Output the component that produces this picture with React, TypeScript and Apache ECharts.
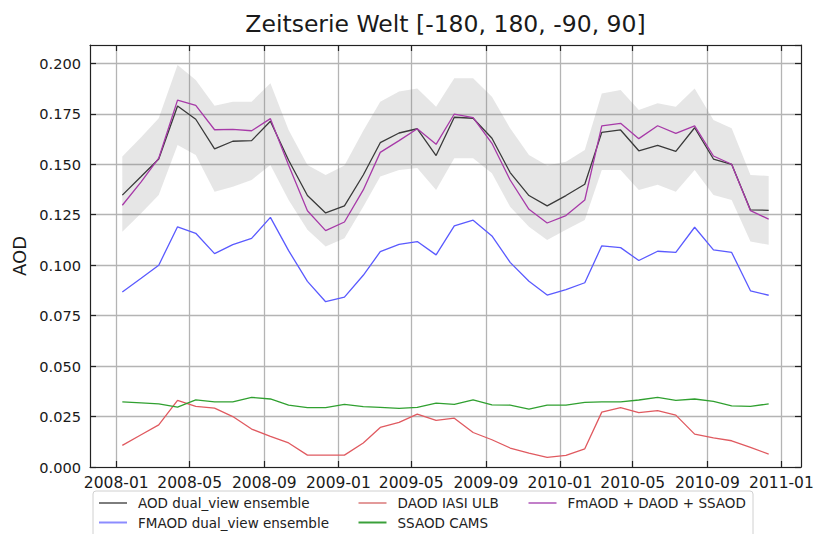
import React, { useEffect, useRef } from "react";
import * as echarts from "echarts";

// ---- data ----
const months = [
  "2008-01", "2008-02", "2008-03", "2008-04", "2008-05", "2008-06", "2008-07", "2008-08", "2008-09", "2008-10", "2008-11", "2008-12",
  "2009-01", "2009-02", "2009-03", "2009-04", "2009-05", "2009-06", "2009-07", "2009-08", "2009-09", "2009-10", "2009-11", "2009-12",
  "2010-01", "2010-02", "2010-03", "2010-04", "2010-05", "2010-06", "2010-07", "2010-08", "2010-09", "2010-10", "2010-11", "2010-12",
];

const aodEnsemble = [
  0.1347, 0.1439, 0.1526, 0.1789, 0.1723, 0.1576, 0.1614, 0.1617, 0.1713, 0.1520, 0.1345, 0.1259,
  0.1294, 0.1447, 0.1607, 0.1655, 0.1676, 0.1543, 0.1733, 0.1728, 0.1629, 0.1459, 0.1345, 0.1294,
  0.1345, 0.1401, 0.1658, 0.1670, 0.1567, 0.1594, 0.1564, 0.1681, 0.1526, 0.1500, 0.1274, 0.1272,
];

const aodLower = [
  0.1166, 0.1257, 0.1348, 0.1596, 0.1546, 0.1364, 0.1389, 0.1422, 0.1497, 0.1323, 0.1175, 0.1092,
  0.1134, 0.1290, 0.1439, 0.1472, 0.1481, 0.1373, 0.1530, 0.1530, 0.1455, 0.1290, 0.1191, 0.1125,
  0.1175, 0.1224, 0.1472, 0.1472, 0.1373, 0.1398, 0.1364, 0.1472, 0.1348, 0.1323, 0.1117, 0.1101,
];

const aodUpper = [
  0.1538, 0.1634, 0.1728, 0.1992, 0.1917, 0.1790, 0.1810, 0.1810, 0.1901, 0.1670, 0.1497, 0.1447,
  0.1494, 0.1666, 0.1810, 0.1860, 0.1876, 0.1785, 0.1926, 0.1926, 0.1835, 0.1678, 0.1546, 0.1494,
  0.1513, 0.1571, 0.1851, 0.1868, 0.1769, 0.1802, 0.1785, 0.1876, 0.1719, 0.1678, 0.1447, 0.1442,
];

const fmaodEnsemble = [
  0.0867, 0.0935, 0.1000, 0.1190, 0.1158, 0.1057, 0.1102, 0.1133, 0.1237, 0.1072, 0.0920, 0.0819,
  0.0842, 0.0950, 0.1067, 0.1103, 0.1117, 0.1051, 0.1195, 0.1223, 0.1145, 0.1014, 0.0920, 0.0852,
  0.0879, 0.0913, 0.1096, 0.1087, 0.1023, 0.1069, 0.1063, 0.1188, 0.1076, 0.1063, 0.0873, 0.0851,
];

const daodIasi = [
  0.0107, 0.0160, 0.0209, 0.0330, 0.0300, 0.0292, 0.0250, 0.0188, 0.0152, 0.0119, 0.0059, 0.0059,
  0.0059, 0.0119, 0.0196, 0.0221, 0.0262, 0.0231, 0.0242, 0.0171, 0.0135, 0.0094, 0.0069, 0.0048,
  0.0058, 0.0090, 0.0272, 0.0294, 0.0269, 0.0279, 0.0257, 0.0163, 0.0144, 0.0130, 0.0097, 0.0064,
];

const ssaodCams = [
  0.0323, 0.0318, 0.0313, 0.0297, 0.0333, 0.0323, 0.0323, 0.0345, 0.0337, 0.0307, 0.0294, 0.0294,
  0.0310, 0.0299, 0.0295, 0.0290, 0.0295, 0.0316, 0.0310, 0.0333, 0.0308, 0.0307, 0.0287, 0.0307,
  0.0307, 0.0320, 0.0323, 0.0323, 0.0332, 0.0345, 0.0330, 0.0337, 0.0325, 0.0303, 0.0300, 0.0313,
];

const sumAod = [
  0.1297, 0.1413, 0.1530, 0.1818, 0.1792, 0.1671, 0.1673, 0.1666, 0.1726, 0.1495, 0.1270, 0.1171,
  0.1214, 0.1373, 0.1559, 0.1617, 0.1676, 0.1599, 0.1749, 0.1731, 0.1604, 0.1422, 0.1277, 0.1209,
  0.1246, 0.1323, 0.1690, 0.1703, 0.1627, 0.1691, 0.1653, 0.1690, 0.1541, 0.1500, 0.1270, 0.1228,
];

const xTickLabels = ["2008-01", "2008-05", "2008-09", "2009-01", "2009-05", "2009-09", "2010-01", "2010-05", "2010-09", "2011-01"];

const seriesNames = [
  "AOD dual_view ensemble",
  "FMAOD dual_view ensemble",
  "DAOD IASI ULB",
  "SSAOD CAMS",
  "FmAOD + DAOD + SSAOD",
];

const FONT = "DejaVu Sans";

function monthTime(m: string, day: number): number {
  const [y, mo] = m.split("-").map(Number);
  return Date.UTC(y, mo - 1, day);
}

function fmtMonth(v: number): string {
  const d = new Date(v);
  const mo = d.getUTCMonth() + 1;
  return d.getUTCFullYear() + "-" + (mo < 10 ? "0" + mo : String(mo));
}

export default function App() {
  const ref = useRef<HTMLDivElement>(null);

  useEffect(() => {
    if (!ref.current) return;
    const chart = echarts.init(ref.current, undefined, { renderer: "svg" });

    const times = months.map((m) => monthTime(m, 11));
    const span = times[times.length - 1] - times[0];
    const xMin = times[0] - 0.05 * span;
    const xMax = times[times.length - 1] + 0.05 * span;
    const xTicks = xTickLabels.map((m) => monthTime(m, 1));
    const yMax = 0.2091;

    const pairs = (arr: number[]) => arr.map((v, i) => [times[i], v]);

    const lineSeries = (name: string, data: number[], color: string, z: number) => ({
      name,
      type: "line",
      data: pairs(data),
      symbol: "none",
      showSymbol: false,
      lineStyle: { color, width: 1.3 },
      itemStyle: { color },
      z,
    });

    const legendBase = {
      orient: "vertical",
      top: 495,
      padding: 0,
      itemGap: 3.5,
      itemWidth: 28,
      itemHeight: 2,
      icon: "rect",
      textStyle: { fontFamily: FONT, fontSize: 13.5, color: "#222", lineHeight: 16, padding: [0, 0, 0, 6] },
    };

    const legendColors: Record<string, string> = {
      [seriesNames[0]]: "#7d7d7d",
      [seriesNames[1]]: "#8c8cff",
      [seriesNames[2]]: "#e39a9a",
      [seriesNames[3]]: "#3aa03a",
      [seriesNames[4]]: "#c27fc9",
    };
    const legendItem = (n: string) => ({ name: n, itemStyle: { color: legendColors[n] } });

    const axisLineStyle = { color: "#222", width: 1.2 };

    const option: any = {
      animation: false,
      backgroundColor: "#ffffff",
      textStyle: { fontFamily: FONT },
      grid: { left: 90, right: 13, top: 45, bottom: 67, containLabel: false, outerBoundsMode: "none" },
      graphic: [
        {
          type: "rect",
          shape: { x: 93, y: 491, width: 660, height: 60, r: 3 },
          style: { fill: "#ffffff", stroke: "#d0d0d0", lineWidth: 1 },
          silent: true,
          z: 0,
        },
        {
          type: "text",
          x: 445.5,
          y: 24,
          style: {
            text: "Zeitserie Welt [-180, 180, -90, 90]",
            fontFamily: FONT,
            fontSize: 23.5,
            fill: "#1a1a1a",
            textAlign: "center",
            textVerticalAlign: "middle",
          },
        },
        {
          type: "text",
          x: 19.5,
          y: 256,
          rotation: Math.PI / 2,
          style: {
            text: "AOD",
            fontFamily: FONT,
            fontSize: 18,
            fill: "#1a1a1a",
            textAlign: "center",
            textVerticalAlign: "middle",
          },
        },
      ],
      legend: [
        { ...legendBase, left: 99, data: [legendItem(seriesNames[0]), legendItem(seriesNames[1])] },
        { ...legendBase, left: 358.5, data: [legendItem(seriesNames[2]), legendItem(seriesNames[3])] },
        { ...legendBase, left: 528.5, data: [legendItem(seriesNames[4])] },
      ],
      xAxis: [
        {
          type: "value",
          min: xMin,
          max: xMax,
          position: "bottom",
          axisLine: { show: true, onZero: false, lineStyle: axisLineStyle },
          axisTick: { show: true, inside: true, length: 6, customValues: xTicks, lineStyle: axisLineStyle },
          axisLabel: {
            show: true,
            customValues: xTicks,
            formatter: (v: number) => fmtMonth(v),
            fontFamily: FONT,
            fontSize: 15.5,
            color: "#1a1a1a",
            margin: 8,
            hideOverlap: false,
          },
          splitLine: { show: true, lineStyle: { color: "#b4b4b4", width: 1.3 } },
        },
        {
          type: "value",
          min: xMin,
          max: xMax,
          position: "top",
          axisLine: { show: true, onZero: false, lineStyle: axisLineStyle },
          axisTick: { show: true, inside: true, length: 6, customValues: xTicks, lineStyle: axisLineStyle },
          axisLabel: { show: false },
          splitLine: { show: false },
        },
      ],
      yAxis: [
        {
          type: "value",
          min: 0,
          max: yMax,
          interval: 0.025,
          position: "left",
          axisLine: { show: true, onZero: false, lineStyle: axisLineStyle },
          axisTick: { show: true, inside: true, length: 6, lineStyle: axisLineStyle },
          axisLabel: {
            formatter: (v: number) => v.toFixed(3),
            fontFamily: FONT,
            fontSize: 14.6,
            color: "#1a1a1a",
            margin: 9,
            showMaxLabel: false,
          },
          splitLine: { show: true, lineStyle: { color: "#b4b4b4", width: 1.3 } },
        },
        {
          type: "value",
          min: 0,
          max: yMax,
          interval: 0.025,
          position: "right",
          axisLine: { show: true, onZero: false, lineStyle: axisLineStyle },
          axisTick: { show: true, inside: true, length: 6, lineStyle: axisLineStyle },
          axisLabel: { show: false },
          splitLine: { show: false },
        },
      ],
      series: [
        {
          name: "band",
          type: "custom",
          data: times.map((t, i) => [t, aodLower[i], aodUpper[i]]),
          encode: { x: 0, y: [1, 2] },
          silent: true,
          z: 1,
          renderItem: (params: any, api: any) => {
            if (params.dataIndex !== 0) return null;
            const upper = times.map((t, i) => api.coord([t, aodUpper[i]]));
            const lower = times.map((t, i) => api.coord([t, aodLower[i]])).reverse();
            return {
              type: "polygon",
              shape: { points: upper.concat(lower) },
              style: { fill: "rgba(128,128,128,0.2)" },
            };
          },
        },
        lineSeries(seriesNames[0], aodEnsemble, "#3a3a3a", 3),
        lineSeries(seriesNames[1], fmaodEnsemble, "#5a5aff", 3),
        lineSeries(seriesNames[2], daodIasi, "#e05a60", 3),
        lineSeries(seriesNames[3], ssaodCams, "#30a030", 3),
        lineSeries(seriesNames[4], sumAod, "#a73aa8", 4),
      ],
    };

    chart.setOption(option);
    return () => chart.dispose();
  }, []);

  return (
    <div
      ref={ref}
      style={{ position: "fixed", left: 0, top: 0, width: 814, height: 534, background: "#fff" }}
    />
  );
}
